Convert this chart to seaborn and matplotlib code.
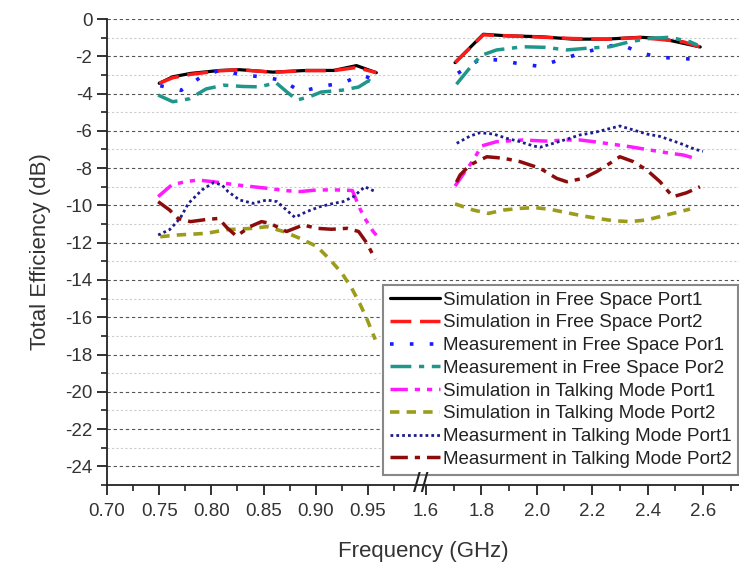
import numpy as np
import matplotlib
matplotlib.use("Agg")
import matplotlib.pyplot as plt
import matplotlib.transforms as mtransforms
import seaborn as sns

# ---- data (frequency in GHz, efficiency in dB) ----
sim_fs1_lo_f = [0.75, 0.763, 0.78, 0.808, 0.827, 0.859, 0.891, 0.917, 0.939, 0.958]
sim_fs1_lo_v = [-3.45, -3.1, -2.92, -2.76, -2.72, -2.85, -2.76, -2.76, -2.5, -2.88]
sim_fs1_hi_f = [1.705, 1.807, 1.891, 2.012, 2.132, 2.252, 2.373, 2.45, 2.528, 2.59]
sim_fs1_hi_v = [-2.34, -0.82, -0.9, -0.95, -1.08, -1.08, -0.98, -1.05, -1.3, -1.5]

sim_fs2_lo_f = [0.75, 0.763, 0.78, 0.808, 0.827, 0.859, 0.891, 0.917, 0.939, 0.958]
sim_fs2_lo_v = [-3.45, -3.15, -2.97, -2.78, -2.72, -2.86, -2.77, -2.77, -2.6, -2.88]
sim_fs2_hi_f = [1.705, 1.807, 1.891, 2.012, 2.132, 2.252, 2.373, 2.45, 2.528, 2.59]
sim_fs2_hi_v = [-2.34, -0.85, -0.9, -0.97, -1.05, -1.08, -1.0, -1.1, -1.22, -1.5]

meas_fs1_lo_f = [0.751, 0.771, 0.789, 0.808, 0.829, 0.848, 0.867, 0.886, 0.906, 0.925, 0.944, 0.958]
meas_fs1_lo_v = [-3.58, -3.83, -3.15, -2.74, -3.0, -3.1, -3.28, -3.9, -3.6, -3.45, -3.0, -3.3]
meas_fs1_hi_f = [1.715, 1.795, 1.867, 1.939, 2.012, 2.084, 2.156, 2.228, 2.3, 2.373, 2.445, 2.517, 2.589]
meas_fs1_hi_v = [-2.91, -2.16, -2.2, -2.41, -2.54, -2.18, -1.86, -1.57, -1.34, -1.81, -2.06, -2.11, -2.18]

meas_fs2_lo_f = [0.749, 0.763, 0.779, 0.795, 0.812, 0.83, 0.846, 0.862, 0.872, 0.882,
                 0.895, 0.905, 0.925, 0.941, 0.951, 0.958]
meas_fs2_lo_v = [-4.08, -4.44, -4.28, -3.75, -3.55, -3.62, -3.64, -3.42, -3.9, -4.35,
                 -4.15, -3.92, -3.82, -3.65, -3.3, -3.55]
meas_fs2_hi_f = [1.71, 1.765, 1.8, 1.855, 1.95, 2.03, 2.108, 2.18, 2.264, 2.336, 2.409, 2.48, 2.553, 2.58]
meas_fs2_hi_v = [-3.5, -2.5, -1.95, -1.66, -1.49, -1.52, -1.66, -1.57, -1.49, -1.22, -1.04, -0.98, -1.22, -1.4]

sim_tm1_lo_f = [0.749, 0.762, 0.775, 0.787, 0.802, 0.824, 0.853, 0.872, 0.885, 0.901,
                0.92, 0.935, 0.942, 0.947, 0.955, 0.958]
sim_tm1_lo_v = [-9.53, -8.9, -8.73, -8.64, -8.73, -8.9, -9.08, -9.21, -9.26, -9.17,
                -9.17, -9.2, -10.14, -10.7, -11.4, -11.6]
sim_tm1_hi_f = [1.705, 1.741, 1.771, 1.801, 1.855, 1.95, 2.03, 2.108, 2.156, 2.216,
                2.264, 2.336, 2.409, 2.48, 2.53, 2.583]
sim_tm1_hi_v = [-8.96, -8.19, -7.56, -6.81, -6.58, -6.49, -6.55, -6.49, -6.49, -6.6,
                -6.7, -6.85, -7.03, -7.2, -7.3, -7.53]

sim_tm2_lo_f = [0.751, 0.767, 0.795, 0.815, 0.84, 0.853, 0.869, 0.885, 0.901, 0.914,
                0.925, 0.934, 0.942, 0.949, 0.957]
sim_tm2_lo_v = [-11.68, -11.59, -11.5, -11.3, -11.23, -11.14, -11.4, -11.77, -12.2, -12.93,
                -13.64, -14.4, -15.25, -16.1, -17.2]
sim_tm2_hi_f = [1.705, 1.771, 1.825, 1.88, 1.939, 1.993, 2.048, 2.108, 2.168, 2.216,
                2.276, 2.336, 2.397, 2.445, 2.553]
sim_tm2_hi_v = [-9.92, -10.25, -10.43, -10.25, -10.16, -10.12, -10.21, -10.39, -10.57, -10.69,
                -10.82, -10.87, -10.78, -10.6, -10.2]

meas_tm1_lo_f = [0.749, 0.76, 0.77, 0.778, 0.791, 0.802, 0.81, 0.816, 0.827, 0.84, 0.853,
                 0.863, 0.872, 0.88, 0.891, 0.904, 0.917, 0.926, 0.936, 0.947, 0.957]
meas_tm1_lo_v = [-11.59, -11.3, -10.7, -9.89, -9.17, -8.78, -8.9, -9.26, -9.71, -9.89, -9.71,
                 -9.8, -10.25, -10.64, -10.34, -10.07, -9.89, -9.8, -9.53, -9.0, -9.26]
meas_tm1_hi_f = [1.711, 1.759, 1.795, 1.843, 1.891, 1.939, 1.987, 2.012, 2.06, 2.108,
                 2.156, 2.204, 2.252, 2.3, 2.348, 2.397, 2.445, 2.517, 2.571, 2.6]
meas_tm1_hi_v = [-6.67, -6.28, -6.1, -6.17, -6.4, -6.58, -6.81, -6.88, -6.67, -6.45,
                 -6.22, -6.1, -5.92, -5.74, -5.95, -6.17, -6.3, -6.67, -6.99, -7.1]

meas_tm2_lo_f = [0.749, 0.76, 0.768, 0.78, 0.796, 0.807, 0.815, 0.824, 0.837, 0.848,
                 0.856, 0.872, 0.888, 0.901, 0.915, 0.93, 0.941, 0.949, 0.957]
meas_tm2_lo_v = [-9.8, -10.25, -10.7, -10.87, -10.75, -10.7, -11.2, -11.65, -11.14, -10.87,
                 -10.96, -11.4, -11.05, -11.23, -11.28, -11.23, -11.4, -12.03, -12.9]
meas_tm2_hi_f = [1.71, 1.723, 1.759, 1.783, 1.82, 1.88, 1.939, 2.012, 2.072, 2.108, 2.168,
                 2.216, 2.264, 2.3, 2.348, 2.397, 2.445, 2.475, 2.493, 2.541, 2.589]
meas_tm2_hi_v = [-8.75, -8.37, -7.83, -7.65, -7.39, -7.47, -7.65, -8.01, -8.55, -8.73, -8.55,
                 -8.19, -7.74, -7.39, -7.65, -8.1, -8.73, -9.26, -9.53, -9.32, -9.0]

labels = ["Simulation in Free Space Port1", "Simulation in Free Space Port2",
          "Measurement in Free Space Por1", "Measurement in Free Space Por2",
          "Simulation in Talking Mode Port1", "Simulation in Talking Mode Port2",
          "Measurment in Talking Mode Port1", "Measurment in Talking Mode Port2"]

major_ticks = [0.70, 0.75, 0.80, 0.85, 0.90, 0.95, 1.6, 1.8, 2.0, 2.2, 2.4, 2.6]
major_labels = ["0.70", "0.75", "0.80", "0.85", "0.90", "0.95", "1.6", "1.8", "2.0", "2.2", "2.4", "2.6"]
minor_ticks = [0.725, 0.775, 0.825, 0.875, 0.925, 0.975, 1.7, 1.9, 2.1, 2.3, 2.5, 2.7]

# ---- styling ----
colors = ["#000000", "#ff1a1a", "#1a1aff", "#1f968a", "#ff1aff", "#9c9c1c", "#1c1c8c", "#8c0c0c"]
styles = ["-", (0, (6, 2.5)), (0, (1, 4.5)), (0, (6, 2.2, 1.5, 2.2)),
          (0, (5, 2, 1.5, 2, 1.5, 2)), (0, (2.6, 2)), (0, (1, 1.1)), (0, (5, 2, 1.5, 2))]
widths = [2.3, 2.5, 2.6, 2.5, 2.5, 2.6, 2.0, 2.5]

sns.set_theme(style="white")
plt.rcParams["font.family"] = ["Liberation Sans", "DejaVu Sans"]
plt.rcParams["axes.unicode_minus"] = False


# broken frequency axis: 0.70-0.99 GHz and 1.56-2.73 GHz side by side
def fwd(f):
    f = np.asarray(f, dtype=float)
    return np.where(f <= 0.99, (f - 0.70) * 20.0,
                    np.where(f >= 1.56, 6.111 + (f - 1.6) * 5.307,
                             5.8 + (f - 0.99) * (0.099 / 0.57)))


def inv(u):
    u = np.asarray(u, dtype=float)
    return np.where(u <= 5.8, 0.70 + u / 20.0,
                    np.where(u >= 5.899, 1.6 + (u - 6.111) / 5.307,
                             0.99 + (u - 5.8) * (0.57 / 0.099)))


fig = plt.figure(figsize=(7.39, 5.65), dpi=100)
ax = fig.add_axes([107 / 739, 1 - 485 / 565, 632 / 739, 466 / 565])

series = [
    (sim_fs1_lo_f, sim_fs1_lo_v, sim_fs1_hi_f, sim_fs1_hi_v),
    (sim_fs2_lo_f, sim_fs2_lo_v, sim_fs2_hi_f, sim_fs2_hi_v),
    (meas_fs1_lo_f, meas_fs1_lo_v, meas_fs1_hi_f, meas_fs1_hi_v),
    (meas_fs2_lo_f, meas_fs2_lo_v, meas_fs2_hi_f, meas_fs2_hi_v),
    (sim_tm1_lo_f, sim_tm1_lo_v, sim_tm1_hi_f, sim_tm1_hi_v),
    (sim_tm2_lo_f, sim_tm2_lo_v, sim_tm2_hi_f, sim_tm2_hi_v),
    (meas_tm1_lo_f, meas_tm1_lo_v, meas_tm1_hi_f, meas_tm1_hi_v),
    (meas_tm2_lo_f, meas_tm2_lo_v, meas_tm2_hi_f, meas_tm2_hi_v),
]

for i, (lf, lv, hf, hv) in enumerate(series):
    sns.lineplot(x=lf, y=lv, ax=ax, color=colors[i], linestyle=styles[i], linewidth=widths[i],
                 estimator=None, sort=False, label=labels[i], zorder=3 + i * 0.1)
    sns.lineplot(x=hf, y=hv, ax=ax, color=colors[i], linestyle=styles[i], linewidth=widths[i],
                 estimator=None, sort=False, zorder=3 + i * 0.1)

ax.set_xscale("function", functions=(fwd, inv))
ax.set_xlim(0.70, 2.73)
ax.set_ylim(-25, 0)

ax.set_xticks(major_ticks, major_labels)
ax.set_xticks(minor_ticks, minor=True)
ax.set_yticks(np.arange(-24, 1, 2))
ax.set_yticks(np.arange(-25, 0, 2), minor=True)

# horizontal grid only
ax.grid(False)
ax.yaxis.grid(True, which="major", color="#555555", linestyle=(0, (3, 2.5)), linewidth=0.8)
ax.yaxis.grid(True, which="minor", color="#cccccc", linestyle=(0, (2, 2)), linewidth=0.8)
ax.set_axisbelow(True)

for s in ["top", "right"]:
    ax.spines[s].set_visible(False)
for s in ["left", "bottom"]:
    ax.spines[s].set_color("#222222")
    ax.spines[s].set_linewidth(1.3)

ax.tick_params(axis="both", which="major", direction="out", length=7, width=1.3,
               colors="#222222", labelsize=13.5, labelcolor="#333333", bottom=True, left=True)
ax.tick_params(axis="both", which="minor", direction="out", length=4, width=1.2,
               colors="#222222", bottom=True, left=True)
ax.tick_params(axis="x", which="major", pad=6)

ax.set_xlabel("Frequency (GHz)", fontsize=16, color="#333333", labelpad=15)
ax.set_ylabel("Total Efficiency (dB)", fontsize=16, color="#333333", labelpad=10)

# axis break marker
trans = mtransforms.blended_transform_factory(ax.transData, ax.transAxes)
ax.text(1.582, 0.0, "//", transform=trans, ha="center", va="center", fontsize=20,
        color="#222222", clip_on=False, zorder=10)

handles, _ = ax.get_legend_handles_labels()
leg = ax.legend(handles[:8], labels, loc="upper left",
                bbox_to_anchor=(383 / 739, 1 - 285 / 565), bbox_transform=fig.transFigure,
                borderaxespad=0, fontsize=13.5, frameon=True, fancybox=False, framealpha=1,
                edgecolor="#888888", handlelength=2.7, handletextpad=0.15, labelspacing=0.3,
                borderpad=0.35)
leg.get_frame().set_linewidth(1.5)
for t in leg.get_texts():
    t.set_color("#222222")

plt.savefig("out.png", dpi=100)
